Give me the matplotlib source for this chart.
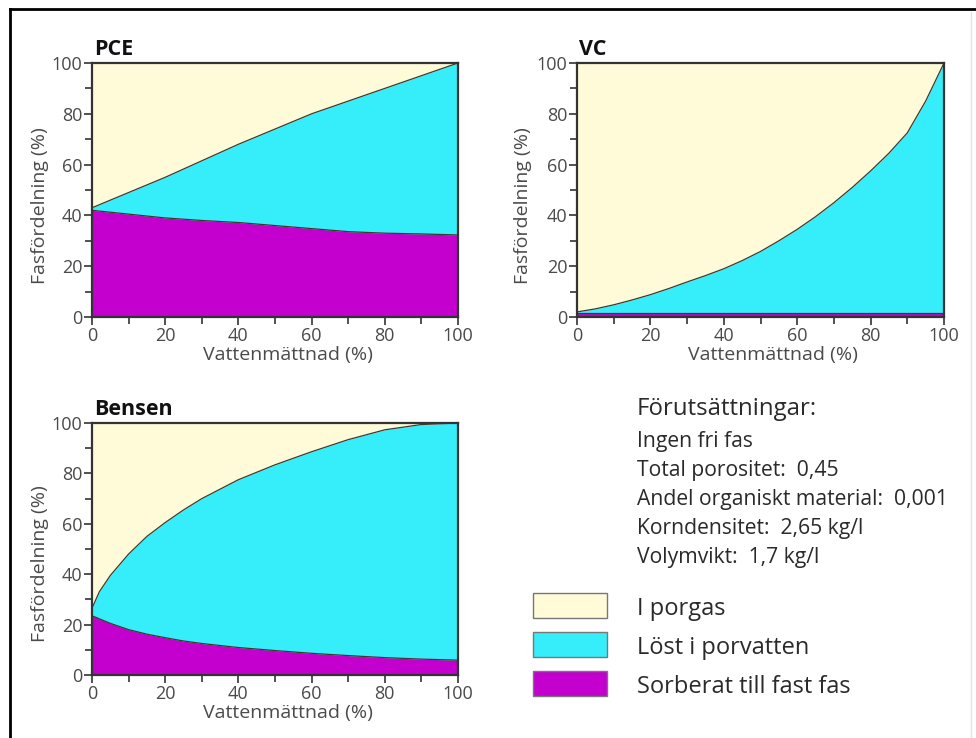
import numpy as np
import matplotlib
matplotlib.use("Agg")
import matplotlib.pyplot as plt
from matplotlib.lines import Line2D
from matplotlib.patches import Rectangle

plt.rcParams['font.family'] = ['Open Sans', 'DejaVu Sans']

# phase distribution (%) vs water saturation (%)
pce_x = [0, 10, 20, 30, 40, 50, 60, 70, 80, 90, 100]
pce_sorbed = [42, 40.5, 39, 38, 37.2, 36, 34.8, 33.6, 33.0, 32.7, 32.3]
pce_top = [43, 49, 55, 61.5, 68, 74, 80, 85, 90, 95, 100]

vc_x = [0, 5, 10, 15, 20, 25, 30, 35, 40, 45, 50, 55, 60, 65, 70, 75, 80, 85, 90, 95, 100]
vc_sorbed = [1.5] * len(vc_x)
vc_top = [2, 3.2, 4.8, 6.7, 8.8, 11.2, 13.8, 16.3, 19, 22.2, 25.8, 30, 34.5, 39.5, 45,
          51, 57.5, 64.5, 72.5, 85, 100]

bensen_x = [0, 2, 5, 10, 15, 20, 25, 30, 40, 50, 60, 70, 80, 90, 100]
bensen_sorbed = [23.5, 22.3, 20.5, 18, 16.2, 14.8, 13.5, 12.5, 10.9, 9.7, 8.6, 7.7, 6.9, 6.3, 5.9]
bensen_top = [26.5, 33, 39.5, 48, 55, 60.5, 65.5, 70, 77.5, 83.4, 88.6, 93.4, 97.3, 99.4, 100]

c_gas = "#fffad8"
c_water = "#36eefa"
c_solid = "#c400cf"
edge = "#3a3a30"
txt = "#2a2a2a"

conditions = ["Ingen fri fas",
              "Total porositet:  0,45",
              "Andel organiskt material:  0,001",
              "Korndensitet:  2,65 kg/l",
              "Volymvikt:  1,7 kg/l"]
legend_labels = ["I porgas", "Löst i porvatten", "Sorberat till fast fas"]

W, H = 976, 738
fig = plt.figure(figsize=(W / 100, H / 100), dpi=100)


def px_axes(x0, y0, x1, y1):
    return fig.add_axes([x0 / W, 1 - y1 / H, (x1 - x0) / W, (y1 - y0) / H])


def draw_panel(ax, name, x, sorbed, top, ylab_x):
    x = np.array(x, dtype=float)
    sorbed = np.array(sorbed, dtype=float)
    top = np.array(top, dtype=float)
    ax.fill_between(x, top, 100, color=c_gas, lw=0)
    ax.fill_between(x, sorbed, top, color=c_water, lw=0)
    ax.fill_between(x, 0, sorbed, color=c_solid, lw=0)
    ax.plot(x, top, color=edge, lw=0.9)
    ax.plot(x, sorbed, color=edge, lw=0.9)
    ax.set_xlim(0, 100)
    ax.set_ylim(0, 100)
    ax.set_xticks(range(0, 101, 20))
    ax.set_yticks(range(0, 101, 20))
    ax.set_xticks(range(10, 100, 20), minor=True)
    ax.set_yticks(range(10, 100, 20), minor=True)
    ax.tick_params(which="major", length=6, width=1.2, color="#333333",
                   labelsize=13, labelcolor="#4a4a4a", pad=1)
    ax.tick_params(which="minor", length=5, width=1.2, color="#333333")
    for s in ax.spines.values():
        s.set_linewidth(1.6)
        s.set_color("#333333")
    ax.set_xlabel("Vattenmättnad (%)", fontsize=14, color="#4a4a4a")
    ax.set_ylabel("Fasfördelning (%)", fontsize=14, color="#4a4a4a")
    ax.xaxis.set_label_coords(0.535, -0.115)
    ax.yaxis.set_label_coords(ylab_x, 0.44)
    ax.text(0.005, 1.01, name, transform=ax.transAxes, fontsize=15.5,
            fontweight="bold", color="#111111", va="bottom", ha="left")


ax1 = px_axes(92, 63, 458, 317)
draw_panel(ax1, "PCE", pce_x, pce_sorbed, pce_top, -0.118)
ax2 = px_axes(577, 63, 944, 317)
draw_panel(ax2, "VC", vc_x, vc_sorbed, vc_top, -0.123)
ax3 = px_axes(92, 423, 458, 675)
draw_panel(ax3, "Bensen", bensen_x, bensen_sorbed, bensen_top, -0.118)

# conditions text
fig.text(637 / W, 1 - 409 / H, "Förutsättningar:", fontsize=17.3, color=txt, va="center")
for i, line in enumerate(conditions):
    fig.text(637 / W, 1 - (441 + i * 29.2) / H, line, fontsize=15.2, color=txt, va="center")

# legend
for i, (lab, c) in enumerate(zip(legend_labels, [c_gas, c_water, c_solid])):
    yc = 605 + i * 39
    fig.patches.append(Rectangle((533 / W, 1 - (yc + 12.5) / H), 74 / W, 25 / H,
                                 transform=fig.transFigure, facecolor=c,
                                 edgecolor="#777777", lw=1.0))
    fig.text(637 / W, 1 - (yc + 4) / H, lab, fontsize=17, color=txt, va="center")

# outer frame
fig.lines.append(Line2D([10 / W, 1], [1 - 9 / H, 1 - 9 / H], transform=fig.transFigure,
                        color="black", lw=2))
fig.lines.append(Line2D([10 / W, 10 / W], [0, 1 - 9 / H], transform=fig.transFigure,
                        color="black", lw=2))
fig.lines.append(Line2D([971 / W, 971 / W], [0, 1 - 12 / H], transform=fig.transFigure,
                        color="#e4e4e4", lw=1))

fig.savefig("out.png", dpi=100)
